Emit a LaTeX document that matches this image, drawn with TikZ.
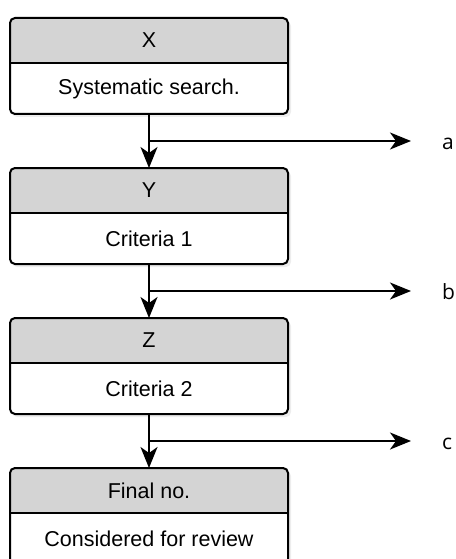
\documentclass[tikz,border=0pt]{standalone}
\usepackage{fontspec}
\setmainfont{Liberation Sans}
\newfontfamily\lblfont{Open Sans}
\usetikzlibrary{positioning,arrows.meta,calc}

\begin{document}
\begin{tikzpicture}[x=1pt,y=-1pt,line width=2pt,
        head/.style={fill=black!17,minimum width=278pt,minimum height=45pt,
            inner sep=0pt,outer sep=0pt,font=\fontsize{21.5}{25}\selectfont},
        body/.style={fill=white,minimum width=278pt,minimum height=51pt,
            inner sep=0pt,outer sep=0pt,font=\fontsize{21.5}{25}\selectfont},
        lbl/.style={inner sep=0pt,anchor=base west,font=\lblfont\fontsize{21}{25}\selectfont},
        arr/.style={-{Stealth[length=21pt,width=17pt,inset=6pt]}}]
    \useasboundingbox (0,0) rectangle (455,559);
    % boxes
    \foreach \nm/\ty/\hd/\bd in {x/18/X/Systematic search.,
            y/168/Y/Criteria 1,
            z/318/Z/Criteria 2,
            f/468/Final no./Considered for review}{
        \fill[black!7,rounded corners=5pt] (12,\ty+3) rectangle (291,\ty+99);
        \begin{scope}[rounded corners=5pt]
            \clip (10,\ty) rectangle (288,\ty+96);
            \node[head] (\nm h) at (149,\ty+22.5) {\hd};
            \node[body,below=0pt of \nm h] (\nm b) {\bd};
        \end{scope}
        \draw[rounded corners=5pt] (\nm h.north west) rectangle (\nm b.south east);
        \draw (\nm h.south west) -- (\nm h.south east);
    }
    % connectors
    \foreach \up/\dn/\lb in {x/y/a, y/z/b, z/f/c}{
        \draw[arr] (\up b.south) -- (\dn h.north);
        \coordinate (\lb s) at ($(\up b.south)!.5!(\dn h.north)$);
        \coordinate (\lb e) at ($(\lb s)+(262,0)$);
        \node[lbl] (\lb) at ($(\lb e)+(30,8)$) {\lb};
        \draw[arr] (\lb s) -- (\lb e);
    }
\end{tikzpicture}
\end{document}
